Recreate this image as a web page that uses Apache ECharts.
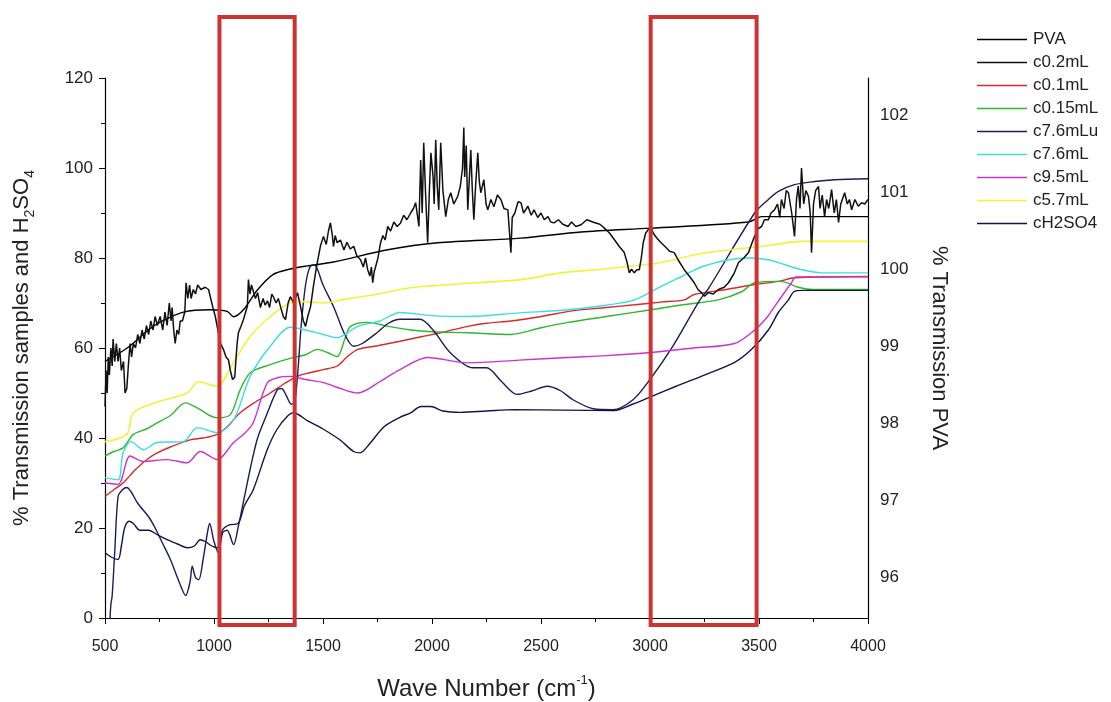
<!DOCTYPE html>
<html><head><meta charset="utf-8">
<script src="https://cdn.jsdelivr.net/npm/echarts@6/dist/echarts.min.js"></script>
<style>html,body{margin:0;padding:0;background:#fff}#c{width:1111px;height:702px}</style>
</head><body><div id="c"></div>
<script>
// ---------- data (wave number, % transmission) ----------
const xTicks = [500, 1000, 1500, 2000, 2500, 3000, 3500, 4000];
const leftTicks = [0, 20, 40, 60, 80, 100, 120];
const rightTicks = [96, 97, 98, 99, 100, 101, 102];
const legendNames = ['PVA','c0.2mL','c0.1mL','c0.15mL','c7.6mLu','c7.6mL','c9.5mL','c5.7mL','cH2SO4'];
const boxRanges = [[1025, 1370], [3003, 3489]];

// PVA on right axis (smooth)
const PVA = [[500,98.81],[600,98.98],[700,99.22],[753,99.32],[860,99.45],[983,99.48],[1060,99.46],[1090,99.39],[1135,99.48],[1200,99.74],[1272,99.94],[1350,100.01],[1428,100.05],[1548,100.10],[1797,100.26],[2026,100.35],[2408,100.41],[2684,100.49],[3005,100.54],[3452,100.62],[3512,100.69],[4000,100.69]];

const c02mL = [[500,47],[505,55],[510,50],[515,58],[520,54],[527,60],[533,56],[537,62],[545,57],[552,61],[560,57],[567,60],[575,55],[585,57],[592,50],[600,51],[607,56],[615,61],[622,58],[630,61],[640,60],[650,63],[660,61],[670,64],[680,62],[690,65],[700,63],[710,66],[720,64],[730,67],[740,65],[753,67],[765,64],[775,68],[785,65],[795,70],[803,66],[808,69],[815,64],[822,61],[830,64],[838,63],[845,66],[855,66],[866,68],[872,74.5],[880,71],[888,74],[895,71],[905,73],[915,72],[925,74],[940,73],[960,73.5],[975,73],[985,71],[995,69],[1006,67],[1020,63.4],[1030,61],[1043,59.7],[1055,58],[1066,57.4],[1075,55],[1085,53],[1095,53.5],[1100,57],[1106,61],[1112,63.4],[1125,65],[1135,66.3],[1145,68],[1153,69.2],[1158,75.2],[1165,72],[1172,74],[1180,73.7],[1190,71],[1200,72.3],[1213,69],[1225,71],[1235,69.5],[1245,70.5],[1255,69],[1265,72],[1272,71.4],[1285,70],[1295,71],[1305,69.2],[1318,67],[1328,66.3],[1340,70],[1350,71.4],[1365,70],[1383,72.3],[1397,69.2],[1410,66],[1420,64.8],[1430,67],[1443,69.2],[1456,73.7],[1470,78],[1488,82.6],[1502,84.8],[1515,83],[1525,86],[1534,87.8],[1543,85],[1548,82.6],[1556,85],[1565,83.4],[1580,84],[1596,81.8],[1610,83.5],[1625,82],[1641,82.6],[1655,80.5],[1672,79.6],[1685,78],[1695,80],[1705,77.4],[1715,76],[1722,78],[1728,74.5],[1735,77],[1741,78],[1752,80],[1764,83.4],[1775,85],[1785,84],[1797,87],[1810,86],[1825,88],[1840,87],[1856,87.8],[1870,89.5],[1885,88.5],[1902,90],[1915,91],[1925,92.3],[1934,92.3],[1940,87],[1948,101.8],[1955,90],[1962,105.6],[1970,95],[1980,83.4],[1988,95],[1995,103.4],[2005,98],[2010,92],[2017,106.3],[2024,96],[2031,90.7],[2040,105.6],[2050,95],[2063,89.2],[2075,93],[2086,94.5],[2100,92],[2118,93.7],[2130,96],[2140,100],[2146,109],[2150,98],[2157,105],[2164,90.7],[2178,104],[2185,95],[2192,88.5],[2200,96],[2210,103.4],[2217,97],[2224,94.5],[2238,97.4],[2248,92],[2256,90.7],[2270,93],[2284,91.4],[2300,94],[2316,93],[2330,91],[2348,90.7],[2355,86],[2362,81.2],[2368,89],[2380,90],[2395,92.5],[2408,92.3],[2420,90],[2440,91.5],[2455,89.5],[2468,90.7],[2485,89],[2500,90],[2515,88.5],[2532,89.2],[2545,88],[2560,87.8],[2580,88.5],[2600,87.5],[2624,87],[2640,88],[2660,87],[2684,87.4],[2710,88.5],[2744,87.9],[2770,87.5],[2790,86.7],[2815,85.5],[2836,84.1],[2860,82.5],[2882,81.2],[2895,79],[2905,76.7],[2915,77.5],[2928,76.7],[2940,77.4],[2951,77.4],[2960,80],[2969,83.4],[2980,85.5],[2992,86.3],[3005,86.7],[3015,85.5],[3030,84.5],[3051,83.4],[3070,82.5],[3090,81.5],[3111,81.2],[3130,79.5],[3157,77.4],[3180,76],[3203,74.5],[3220,73],[3236,72.3],[3250,71.5],[3268,72.3],[3290,72],[3314,73],[3340,73.5],[3360,74.5],[3385,76.5],[3406,79],[3430,80],[3452,81.2],[3465,83],[3480,84.8],[3495,86.5],[3512,87],[3525,88.5],[3543,88.5],[3555,90],[3571,90.7],[3585,92],[3595,89],[3603,93],[3615,91],[3625,95],[3635,94.5],[3650,90],[3663,84.8],[3672,93],[3680,96],[3688,91],[3695,100],[3705,92],[3715,95],[3727,93.7],[3735,90],[3741,81.2],[3750,92],[3760,95],[3773,95.9],[3780,91],[3790,94],[3801,89.2],[3810,93],[3820,91],[3833,95.2],[3845,90],[3855,93],[3865,87.9],[3875,92],[3893,94.5],[3905,92],[3915,93],[3925,90.7],[3940,93],[3955,91.5],[3971,92.3],[3985,92],[4000,93]];

const c01mL = [[500,27],[540,28.5],[583,30],[640,33],[700,35.5],[740,36.7],[800,38],[890,39.6],[950,40],[1015,40.8],[1060,42.5],[1120,45.6],[1190,48],[1258,50],[1320,52],[1382,53.7],[1440,54.5],[1502,55.2],[1565,56],[1610,58],[1660,59.7],[1750,60.5],[1853,61.5],[1950,62.5],[2050,63.5],[2164,64.8],[2250,65.5],[2362,66],[2500,67],[2650,68.3],[2800,69],[2929,69.6],[3050,70.2],[3158,70.7],[3203,71.9],[3350,73],[3480,74.1],[3589,74.8],[3663,75.6],[4000,75.9]];

const c015mL = [[500,36],[540,37],[583,37.8],[630,40.8],[690,42],[740,43.4],[800,45],[868,47.8],[937,46.3],[980,45],[1015,44.5],[1075,45.2],[1120,50.7],[1166,54.5],[1258,56.3],[1365,57.9],[1420,58.5],[1475,59.7],[1520,59],[1565,58.1],[1600,62],[1626,64.8],[1705,65.7],[1800,64.8],[1902,64],[2000,63.6],[2164,63.4],[2362,63],[2500,64.5],[2624,65.7],[2800,67],[3005,68.5],[3150,69.6],[3313,70.7],[3420,72.5],[3480,74.5],[3600,74.8],[3680,73.5],[3750,73],[4000,73]];

const c76mLu = [[523,0],[527,3],[533,5],[545,15],[560,27],[580,28.5],[600,29],[620,28],[650,25.5],[700,22.5],[730,20],[760,17],[800,13],[840,8],[870,5],[890,8],[900,11.5],[915,9],[930,8.5],[950,13],[970,19],[980,21],[1000,17],[1020,14.5],[1040,19],[1060,19.5],[1090,16.3],[1110,20],[1140,27],[1170,34],[1200,40],[1240,45],[1290,50.7],[1310,51],[1330,49.6],[1355,47.5],[1370,48],[1385,55],[1400,65],[1420,74],[1440,78],[1460,78.5],[1500,74],[1550,69],[1600,63],[1640,60.4],[1680,61],[1750,63.5],[1800,65.5],[1853,66.4],[1945,66.4],[2005,64],[2083,59],[2188,55.6],[2250,55.6],[2320,52.5],[2390,49.7],[2460,50.5],[2528,51.5],[2590,50.5],[2647,48.5],[2740,46.5],[2830,46.3],[2922,48.5],[3000,53],[3105,60.4],[3229,70.7],[3268,73.2],[3480,90],[3543,93],[3589,94.8],[3663,96.3],[3755,97],[3847,97.4],[4000,97.6]];

const c76mL = [[500,31.2],[560,30.7],[583,36.7],[620,39.2],[675,37.4],[740,39],[860,39.2],[923,42.3],[1015,41.2],[1090,44],[1166,53.7],[1258,60.4],[1350,64.6],[1420,64],[1502,63],[1565,62.3],[1660,64.8],[1760,66],[1853,67.9],[2000,67.2],[2164,67],[2400,67.8],[2624,68.5],[2800,69.5],[2929,70.7],[3051,73.7],[3150,76],[3235,78],[3350,79.5],[3460,80],[3543,79.6],[3620,78.5],[3695,77.4],[3787,76.7],[4000,76.7]];

const c95mL = [[500,30],[560,29.7],[615,36],[675,34.8],[785,35.2],[877,34.5],[937,37],[1015,35.2],[1090,39],[1140,41],[1180,43.4],[1245,52.3],[1300,53.5],[1350,53.7],[1420,53],[1502,52.3],[1580,51],[1660,50],[1760,52.5],[1853,55.2],[1980,57.9],[2164,56.7],[2400,57.3],[2624,57.9],[2800,58.3],[3005,59],[3200,60],[3388,61],[3480,64],[3540,67],[3571,69.2],[3649,74.5],[3670,75.8],[4000,75.8]];

const c57mL = [[500,39.2],[600,40.8],[630,45.6],[740,48],[877,50],[927,52.5],[1013,51.5],[1088,56.7],[1166,62.6],[1258,67],[1350,70],[1420,70.3],[1502,70],[1600,70.8],[1750,72],[1902,73.4],[2000,73.8],[2200,74.5],[2408,75.2],[2592,76.7],[2800,77.6],[3051,79],[3235,81],[3400,82],[3512,82.6],[3600,83.2],[3695,83.7],[4000,83.7]];

const cH2SO4 = [[500,14.5],[530,13.5],[560,13],[575,16],[590,20],[610,21.5],[630,21],[660,19.5],[700,19.5],[740,18.5],[785,17.4],[830,16.5],[877,15.6],[910,16],[937,17.4],[960,17],[990,16],[1015,15.6],[1040,19.6],[1070,20.7],[1110,21],[1140,25],[1180,28.5],[1245,37.5],[1290,42],[1340,45],[1365,45.6],[1430,43.8],[1500,42],[1580,39.5],[1640,37],[1670,36.7],[1710,38.5],[1780,42.5],[1853,44.6],[1902,45.6],[1950,47],[1994,47],[2050,46],[2132,45.7],[2250,46],[2376,46.3],[2600,46.2],[2836,46.1],[2920,47.5],[3005,49.2],[3120,51.5],[3235,53.7],[3388,56.8],[3466,59.7],[3543,64],[3590,68],[3635,70.7],[3660,72.5],[3700,72.8],[4000,72.8]];

const seriesData = [PVA, c02mL, c01mL, c015mL, c76mLu, c76mL, c95mL, c57mL, cH2SO4];
const seriesColors = ['#000000','#111111','#d42a2a','#2fb82f','#1c1c5a','#3cdede','#cc33cc','#f2f23a','#14144a'];
const seriesAxis = [1,0,0,0,0,0,0,0,0];
const seriesWidth = [1.4,1.5,1.4,1.4,1.4,1.4,1.4,1.6,1.4];
const seriesSmooth = [0.3,false,0.3,0.3,0.3,0.3,0.3,0.3,0.3];

const FONT = 'Liberation Sans, Arial, sans-serif';
const chart = echarts.init(document.getElementById('c'), null, {renderer:'canvas'});

const series = legendNames.map((n, i) => ({
  name: n, type: 'line', yAxisIndex: seriesAxis[i], data: seriesData[i],
  showSymbol: false, symbol: 'none', smooth: seriesSmooth[i],
  lineStyle: {color: seriesColors[i], width: seriesWidth[i]},
  itemStyle: {color: seriesColors[i]},
  z: i === 1 ? 3 : 2, silent: true, animation: false
}));

chart.setOption({
  animation: false,
  backgroundColor: '#ffffff',
  grid: {left: 105, right: 243, top: 78, bottom: 84, containLabel: false, outerBoundsMode: 'none'},
  legend: {
    orient: 'vertical', left: 972, top: 26, icon: 'rect', itemWidth: 50, itemHeight: 1.6,
    itemGap: 6, data: legendNames,
    textStyle: {fontFamily: FONT, fontSize: 17, color: '#222', lineHeight: 17, padding: [0,0,0,1]}
  },
  xAxis: {
    type: 'value', min: 500, max: 4000, interval: 500,
    name: '{n|Wave Number (cm}{sup|-1}{n|)}', nameLocation: 'middle', nameGap: 56,
    nameTextStyle: {rich: {
      n: {fontFamily: 'Liberation Sans Narrow, Liberation Sans, Arial', fontSize: 24, color: '#222', lineHeight: 30},
      sup: {fontFamily: FONT, fontSize: 13, color: '#222', lineHeight: 14, verticalAlign: 'top'}}},
    axisLine: {show: true, onZero: false, lineStyle: {color: '#000', width: 1.2}},
    axisTick: {show: true, inside: false, length: 6, lineStyle: {color: '#000'}},
    minorTick: {show: true, splitNumber: 2, length: 4, lineStyle: {color: '#000'}},
    splitLine: {show: false},
    axisLabel: {fontFamily: 'Liberation Sans Narrow, Liberation Sans, Arial', fontSize: 16, color: '#222', margin: 21,
      customValues: xTicks, formatter: v => String(v)}
  },
  yAxis: [{
    type: 'value', position: 'left', min: 0, max: 120, interval: 20,
    name: '{n|% Transmission samples and H}{sub|2}{n|SO}{sub|4}', nameLocation: 'middle', nameGap: 68,
    nameTextStyle: {rich: {
      n: {fontFamily: FONT, fontSize: 22, color: '#222', lineHeight: 30},
      sub: {fontFamily: FONT, fontSize: 14, color: '#222', lineHeight: 14, verticalAlign: 'bottom'}}},
    axisLine: {show: true, onZero: false, lineStyle: {color: '#000', width: 1.2}},
    axisTick: {show: true, inside: false, length: 6, lineStyle: {color: '#000'}},
    minorTick: {show: true, splitNumber: 2, length: 4, lineStyle: {color: '#000'}},
    splitLine: {show: false},
    axisLabel: {fontFamily: FONT, fontSize: 17, color: '#222', margin: 12, customValues: leftTicks,
      formatter: v => String(v)}
  }, {
    type: 'value', position: 'right', min: 95.477, max: 102.49,
    name: '% Transmission PVA', nameLocation: 'middle', nameGap: 60, nameRotate: -90,
    nameTextStyle: {fontFamily: FONT, fontSize: 22, color: '#222'},
    axisLine: {show: true, onZero: false, lineStyle: {color: '#000', width: 1.2}},
    axisTick: {show: false},
    splitLine: {show: false},
    axisLabel: {fontFamily: FONT, fontSize: 17, color: '#222', margin: 12, customValues: rightTicks,
      formatter: v => String(v)}
  }],
  series: series
});

// red annotation boxes around the highlighted wave-number ranges
const topPx = 17, botPx = 625;
chart.setOption({graphic: boxRanges.map(r => {
  const x1 = chart.convertToPixel({xAxisIndex: 0}, r[0]);
  const x2 = chart.convertToPixel({xAxisIndex: 0}, r[1]);
  return {type: 'rect', shape: {x: x1, y: topPx, width: x2 - x1, height: botPx - topPx},
    style: {fill: 'none', stroke: '#cc3333', lineWidth: 4}, z: 100};
})});
</script></body></html>
